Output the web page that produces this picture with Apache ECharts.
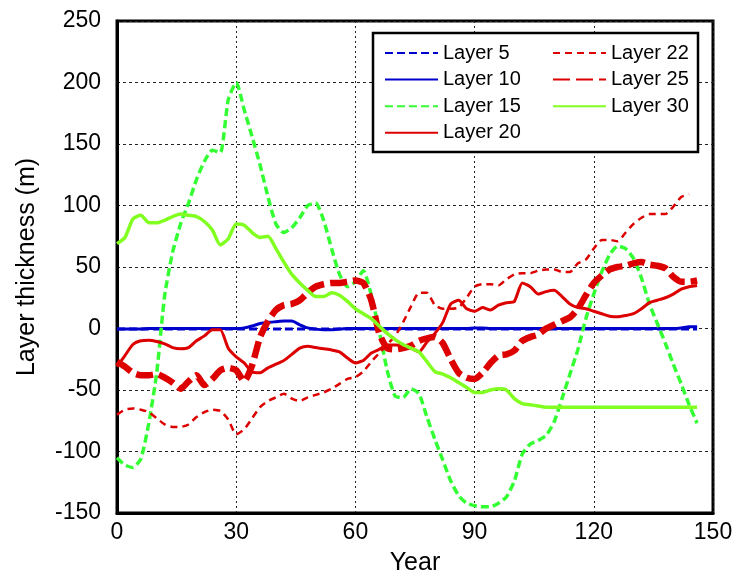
<!DOCTYPE html>
<html>
<head>
<meta charset="utf-8">
<script src="https://cdn.jsdelivr.net/npm/echarts@6/dist/echarts.min.js"></script>
<style>
  html, body { margin: 0; background: #fff; }
  #chart { width: 740px; height: 585px; }
</style>
</head>
<body>
<div id="chart"></div>
<script>
const years = [
  0, 2, 4, 6, 8, 10, 12, 14, 16, 18,
  20, 22, 24, 26, 28, 30, 32, 34, 36, 38,
  40, 42, 44, 46, 48, 50, 52, 54, 56, 58,
  60, 62, 64, 66, 68, 70, 72, 74, 76, 78,
  80, 82, 84, 86, 88, 90, 92, 94, 96, 98,
  100, 102, 104, 106, 108, 110, 112, 114, 116, 118,
  120, 122, 124, 126, 128, 130, 132, 134, 136, 138,
  140, 142, 144, 146
];

const layer5 = [
  -0.5, -0.5, -0.5, -0.5, -0.5, -0.5, -0.5, -0.5, -0.5, -0.5,
  -0.5, -0.5, -0.5, -0.5, -0.5, -0.5, -0.5, -0.5, -0.5, -0.5,
  -0.5, -0.5, -0.5, -0.5, -0.5, -0.5, -0.5, -0.5, -0.5, -0.5,
  -0.5, -0.5, -0.5, -0.5, -0.5, -0.5, -0.5, -0.5, -0.5, -0.5,
  -0.5, -0.5, -0.5, -0.5, -0.5, -0.5, -0.5, -0.5, -0.5, -0.5,
  -0.5, -0.5, -0.5, -0.5, -0.5, -0.5, -0.5, -0.5, -0.5, -0.5,
  -0.5, -0.5, -0.5, -0.5, -0.5, -0.5, -0.5, -0.5, -0.5, -0.5,
  -0.5, -0.5, -0.5, -0.5
];

const layer10 = [
  -0.5, -0.5, -0.5, -0.5, 0, 0, 0, 0, 0, 0,
  0, 0, 0, 0, 0, 0, 0.5, 2, 4, 5,
  5.5, 6, 6, 3, 0.5, -0.5, -1, -1, -0.5, 0,
  0, 0, 0, 0, 0, 0, 0, 0, 0, 0,
  0, 0, 0, 0, 0, 0.5, 0.5, 0, 0, 0,
  0, 0, 0, 0, 0, 0, 0, 0, 0, 0,
  0, 0, 0, 0, 0, 0, 0, 0, 0, 0,
  0, 0.5, 1.5, 1.5
];

const layer15 = [
  -105, -111, -113, -106, -77, -36, 27, 62, 85, 102,
  121, 136, 145, 143, 186, 200, 178, 156, 133, 107,
  85, 78, 82, 90, 100, 102, 88, 65, 44, 34,
  38, 47, 27, -2, -34, -55, -56, -49, -53, -72,
  -90, -107, -124, -136, -142, -144, -145, -145, -142, -137,
  -124, -102, -94, -91, -87, -76, -57, -37, -17, 8,
  28, 46, 60, 67, 65, 57, 41, 20, 4, -12,
  -29, -45, -62, -77
];

const layer20 = [
  -31, -22, -13, -10, -9.5, -10.5, -12.5, -15.5, -16.5, -15.5,
  -10, -6, -1, -1, -16, -23, -28, -35.5, -36, -32,
  -29, -26, -21, -16, -14.5, -15.5, -16.5, -17.5, -19, -24,
  -28, -26, -20, -17, -13.5, -13.5, -14, -16, -19, -11,
  -4, 5, 20, 23, 16, 14, 17, 15, 19, 21,
  22, 37, 34, 28, 30, 31, 26, 20, 17, 16,
  14, 12, 10, 9.5, 10.5, 12, 16, 21, 23, 25,
  28, 32, 34, 35
];

const layer22 = [
  -70, -66, -65, -66, -68, -73, -78, -80, -80, -78,
  -72, -68, -66, -67, -74, -86, -82, -73, -64, -59,
  -56, -53, -57, -59, -56, -54, -52, -49, -45, -41,
  -39.5, -35, -27, -20, -13, -6, 5, 18, 29, 29,
  19, 16, 16, 17, 25, 34, 36, 36, 35, 40,
  44, 45, 45, 47, 48, 48, 46, 46, 53, 56,
  65, 72, 72, 71, 78, 85, 90, 93, 93, 93,
  99, 107, 109, null
];

const layer25 = [
  -27, -31, -36, -38, -38, -37, -40, -44, -49, -43,
  -38, -46, -41, -34, -32, -34, -43, -30, -7, 6,
  15, 19, 20, 23, 29, 34, 36, 37, 37, 38,
  39, 37, 23, -4, -16, -17, -16, -14, -10, -8,
  -7, -12, -25, -36, -40, -41, -36, -28, -22, -21,
  -18, -10, -7, -5, 0, 3, 6, 9, 16, 27,
  37, 43, 48, 50, 51, 53, 54, 52, 51, 49,
  42, 38, 38, 39
];

const layer30 = [
  69, 74, 89, 92, 86, 86, 88, 91, 93, 92,
  91, 87, 80, 68, 73, 85, 84, 78, 74, 75,
  65, 54, 44, 37, 31, 26, 26, 29, 27, 22,
  16, 12, 8, 2, -4, -9, -13, -16, -19, -27,
  -35, -37, -40, -44, -48, -52, -52, -50, -49, -50,
  -57, -61, -62, -63, -64, -64, -64, -64, -64, -64,
  -64, -64, -64, -64, -64, -64, -64, -64, -64, -64,
  -64, -64, -64, -64
];

const xTicks = { min: 0, max: 150, interval: 30 };
const yTicks = { min: -150, max: 250, interval: 50 };

const font = 'Liberation Sans, Arial, sans-serif';
const blue = '#0000cc';
const green = '#33ff33';
const red = '#dd0000';
const lime = '#80ff20';

function makeSeries(name, values, color, width, dash) {
  return {
    name: name,
    type: 'line',
    symbol: 'none',
    smooth: 0.2,
    data: years.map((yr, i) => [yr, values[i]]),
    lineStyle: { color: color, width: width, type: dash },
    itemStyle: { color: color }
  };
}

const chart = echarts.init(document.getElementById('chart'));

// legend lines only, the circle marker is hidden
const legendBase = {
  orient: 'vertical',
  top: 43,
  itemWidth: 53,
  itemHeight: 14,
  itemGap: 6.6,
  padding: 0,
  z: 10,
  itemStyle: { opacity: 0 },
  textStyle: { fontFamily: font, fontSize: 20, color: '#000', lineHeight: 20 }
};

const option = {
  animation: false,
  backgroundColor: '#fff',
  textStyle: { fontFamily: font },
  grid: {
    left: 117, right: 27, top: 21, bottom: 72,
    show: true, borderColor: '#000', borderWidth: 3
  },
  legend: [
    Object.assign({}, legendBase, {
      left: 384,
      data: ['Layer 5', 'Layer 10', 'Layer 15', 'Layer 20']
    }),
    Object.assign({}, legendBase, {
      left: 552,
      data: ['Layer 22', 'Layer 25', 'Layer 30']
    })
  ],
  graphic: [{
    type: 'rect',
    z: 9,
    shape: { x: 373, y: 33, width: 325, height: 119 },
    style: { fill: '#fff', stroke: '#000', lineWidth: 2.5 }
  }],
  xAxis: {
    type: 'value',
    min: xTicks.min, max: xTicks.max, interval: xTicks.interval,
    name: 'Year',
    nameLocation: 'middle',
    nameGap: 38,
    nameTextStyle: { fontFamily: font, fontSize: 25, color: '#000' },
    axisLine: { show: true, onZero: false, lineStyle: { color: '#000', width: 3 } },
    axisTick: { show: false },
    axisLabel: { fontFamily: font, fontSize: 23, color: '#000', margin: 8 },
    splitLine: { show: true, lineStyle: { color: '#222', width: 1, type: [2, 3] } }
  },
  yAxis: {
    type: 'value',
    min: yTicks.min, max: yTicks.max, interval: yTicks.interval,
    name: 'Layer thickness (m)',
    nameLocation: 'middle',
    nameGap: 77,
    nameTextStyle: { fontFamily: font, fontSize: 25, color: '#000' },
    axisLine: { show: true, onZero: false, lineStyle: { color: '#000', width: 3 } },
    axisTick: { show: false },
    axisLabel: { fontFamily: font, fontSize: 23, color: '#000', margin: 16 },
    splitLine: { show: true, lineStyle: { color: '#222', width: 1, type: [3, 3] } }
  },
  series: [
    makeSeries('Layer 5', layer5, blue, 3, [8, 4]),
    makeSeries('Layer 10', layer10, blue, 3, 'solid'),
    makeSeries('Layer 15', layer15, green, 3.5, [8, 4]),
    makeSeries('Layer 20', layer20, red, 3, 'solid'),
    makeSeries('Layer 22', layer22, red, 2.5, [7, 5]),
    makeSeries('Layer 25', layer25, red, 6.5, [17, 6]),
    makeSeries('Layer 30', layer30, lime, 3.5, 'solid')
  ]
};

option && chart.setOption(option);
</script>
</body>
</html>
